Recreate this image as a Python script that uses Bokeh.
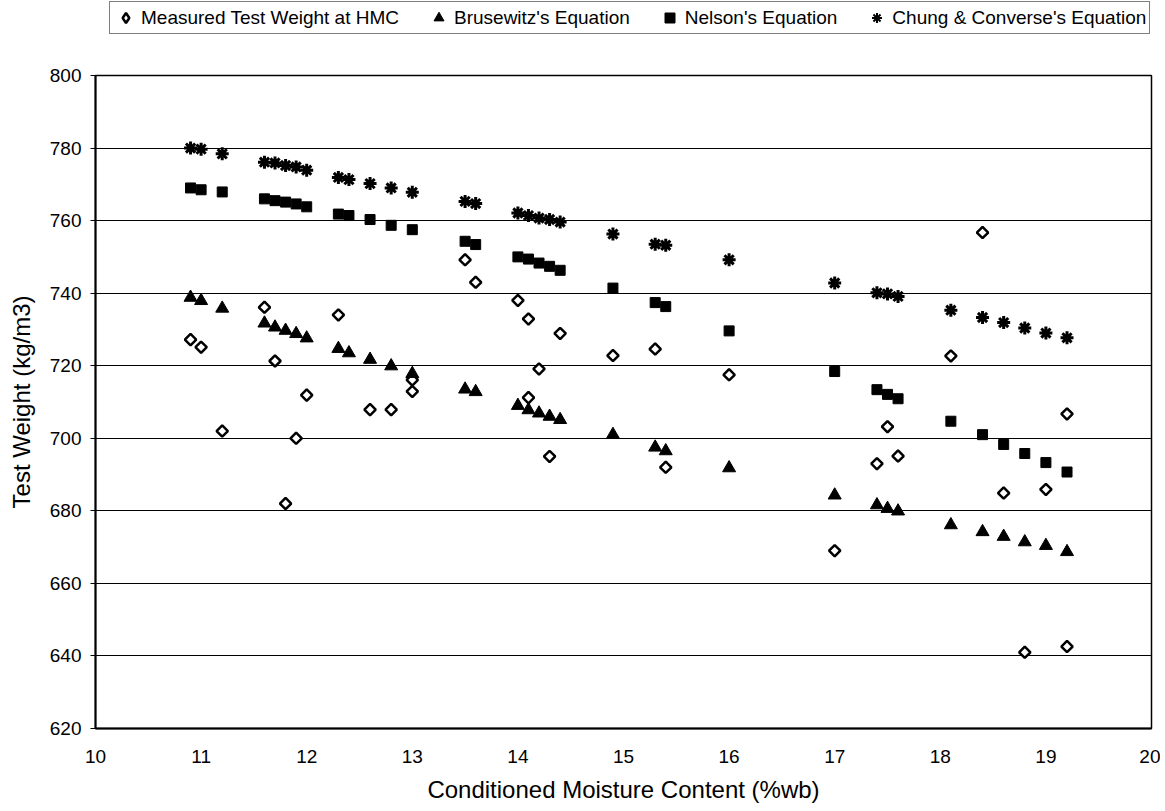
import math
from bokeh.plotting import figure
from bokeh.layouts import column
from bokeh.models import Legend, LegendItem, FixedTicker, Range1d
from bokeh.embed import file_html
from bokeh.resources import INLINE

# ---- data ----
x_eq = [10.9, 11.0, 11.2, 11.6, 11.7, 11.8, 11.9, 12.0, 12.3, 12.4, 12.6, 12.8, 13.0,
        13.5, 13.6, 14.0, 14.1, 14.2, 14.3, 14.4, 14.9, 15.3, 15.4, 16.0,
        17.0, 17.4, 17.5, 17.6, 18.1, 18.4, 18.6, 18.8, 19.0, 19.2]

chung = [780.0, 779.7, 778.4, 776.1, 775.9, 775.2, 774.8, 773.9, 771.9, 771.3, 770.2, 769.0, 767.8,
         765.3, 764.7, 762.1, 761.4, 760.7, 760.3, 759.6, 756.3, 753.5, 753.2, 749.2,
         742.8, 740.1, 739.8, 739.1, 735.3, 733.3, 731.9, 730.4, 729.0, 727.7]

nelson = [769.0, 768.5, 767.9, 766.0, 765.5, 765.1, 764.6, 763.8, 761.8, 761.4, 760.3, 758.7, 757.5,
          754.3, 753.4, 750.0, 749.4, 748.3, 747.4, 746.3, 741.4, 737.4, 736.3, 729.6,
          718.4, 713.4, 712.1, 710.9, 704.7, 701.0, 698.3, 695.8, 693.3, 690.7]

brusewitz = [738.8, 737.9, 735.8, 731.7, 730.6, 729.7, 728.8, 727.6, 724.7, 723.5, 721.7, 719.9, 717.8,
             713.5, 712.8, 709.0, 707.8, 706.9, 706.0, 705.1, 701.0, 697.5, 696.5, 691.8,
             684.3, 681.6, 680.6, 679.9, 676.1, 674.2, 672.9, 671.4, 670.4, 668.7]

x_meas = [10.9, 11.0, 11.2, 11.6, 11.7, 11.8, 11.9, 12.0, 12.3, 12.6, 12.8, 13.0, 13.0,
          13.5, 13.6, 14.0, 14.1, 14.1, 14.2, 14.3, 14.4, 14.9, 15.3, 15.4, 16.0,
          17.0, 17.4, 17.5, 17.6, 18.1, 18.4, 18.6, 18.8, 19.0, 19.2, 19.2]
measured = [727.2, 725.1, 702.0, 736.1, 721.3, 682.0, 700.0, 711.9, 734.0, 707.9, 707.9, 716.1, 712.9,
            749.2, 743.0, 738.0, 732.9, 711.2, 719.1, 695.0, 728.9, 722.8, 724.6, 692.0, 717.5,
            669.0, 693.0, 703.2, 695.1, 722.7, 756.7, 684.9, 641.0, 685.9, 706.7, 642.6]

x_ticks = [10, 11, 12, 13, 14, 15, 16, 17, 18, 19, 20]
y_ticks = [620, 640, 660, 680, 700, 720, 740, 760, 780, 800]

series_labels = ["Measured Test Weight at HMC", "Brusewitz's Equation",
                 "Nelson's Equation", "Chung & Converse's Equation"]

FONT = "Liberation Sans"
W = 1160

# ---------------- main chart ----------------
p = figure(width=W, height=768, output_backend="svg", toolbar_location=None,
           x_range=Range1d(10, 20), y_range=Range1d(620, 800))
p.min_border_left = 95
p.min_border_right = 9
p.min_border_top = 35
p.min_border_bottom = 80

p.background_fill_color = "white"
p.border_fill_color = "white"
p.outline_line_color = "black"
p.outline_line_width = 1.5

p.xgrid.grid_line_color = None
p.ygrid.grid_line_color = "black"
p.ygrid.grid_line_width = 1.2

p.xaxis.ticker = FixedTicker(ticks=x_ticks)
p.yaxis.ticker = FixedTicker(ticks=y_ticks)
for ax in (p.xaxis, p.yaxis):
    ax.axis_line_color = "black"
    ax.axis_line_width = 2
    ax.major_tick_line_color = "black"
    ax.major_tick_line_width = 1
    ax.major_tick_in = 0
    ax.major_tick_out = 5
    ax.minor_tick_line_color = None
    ax.major_label_text_font = FONT
    ax.major_label_text_font_size = "19px"
    ax.major_label_text_color = "black"
    ax.axis_label_text_font = FONT
    ax.axis_label_text_font_size = "24px"
    ax.axis_label_text_font_style = "normal"
    ax.axis_label_text_color = "black"
p.xaxis.major_tick_out = 0
p.xaxis.major_label_standoff = 21
p.xaxis.axis_label = "Conditioned Moisture Content (%wb)"
p.xaxis.axis_label_standoff = 10
p.yaxis.axis_label = "Test Weight (kg/m3)"
p.yaxis.major_label_standoff = 9
p.yaxis.axis_label_standoff = 12

brus_style = dict(marker="triangle", fill_color="black", line_color="black", line_width=1)
nel_style = dict(marker="square", fill_color="black", line_color="black", line_width=1)
chung_style = dict(marker="asterisk", line_color="black")

p.scatter(x_meas, measured, size=8, marker="square", angle=math.pi / 4,
          fill_color="white", line_color="black", line_width=2.5)
p.scatter(x_eq, brusewitz, size=13, **brus_style)
p.scatter(x_eq, nelson, size=10, **nel_style)
p.scatter(x_eq, chung, size=13, line_width=3, **chung_style)

# ---------------- legend strip ----------------
# The same series are attached here only to give the legend its keys; this strip's
# ranges do not contain the data, so nothing is drawn inside it except the legend.
lg = figure(width=W, height=40, output_backend="svg", toolbar_location=None,
            x_axis_location=None, y_axis_location=None,
            x_range=Range1d(0, 1), y_range=Range1d(0, 1))
lg.min_border = 0
lg.outline_line_color = None
lg.xgrid.grid_line_color = None
lg.ygrid.grid_line_color = None
lg.background_fill_color = "white"
lg.border_fill_color = "white"

l_meas = lg.scatter(x_meas, measured, marker="diamond", fill_color="white",
                    line_color="black", line_width=2.5)
l_brus = lg.scatter(x_eq, brusewitz, **brus_style)
l_nel = lg.scatter(x_eq, nelson, **nel_style)
l_chung = lg.scatter(x_eq, chung, line_width=2, **chung_style)

legend = Legend(items=[LegendItem(label=series_labels[0], renderers=[l_meas]),
                       LegendItem(label=series_labels[1], renderers=[l_brus]),
                       LegendItem(label=series_labels[2], renderers=[l_nel]),
                       LegendItem(label=series_labels[3], renderers=[l_chung])],
                orientation="horizontal", location=(14, 6))
legend.label_text_font = FONT
legend.label_text_font_size = "19px"
legend.label_text_color = "black"
legend.border_line_color = "black"
legend.border_line_width = 1.5
legend.background_fill_color = "white"
legend.background_fill_alpha = 1
legend.padding = 3
legend.margin = 0
legend.spacing = 27
legend.glyph_width = 25
legend.glyph_height = 25
legend.label_standoff = 3
lg.add_layout(legend, "center")

page = column(lg, p, spacing=0)

open("out.html", "w").write(file_html(page, INLINE))
